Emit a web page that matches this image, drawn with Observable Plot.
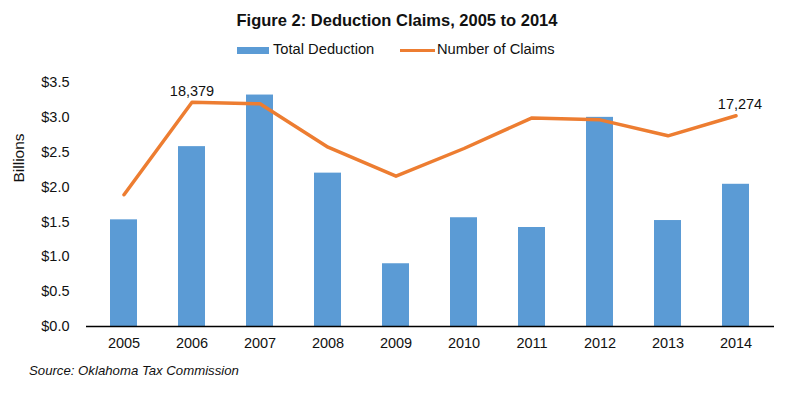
<!DOCTYPE html>
<html>
<head>
<meta charset="utf-8">
<script src="https://cdn.jsdelivr.net/npm/d3@7"></script>
<script src="https://cdn.jsdelivr.net/npm/@observablehq/plot@0.6"></script>
<style>
  html, body { margin: 0; padding: 0; background: #fff; }
  body { width: 800px; height: 394px; position: relative; overflow: hidden; font-family: Arial, "Liberation Sans", sans-serif; color: #111; }
  #title { position: absolute; left: 0; top: 9px; width: 794px; text-align: center; font-weight: bold; font-size: 16.5px; line-height: 22px; }
  .leg { position: absolute; font-size: 14.7px; line-height: 18px; top: 40px; }
  .sw { position: absolute; }
  #chart { position: absolute; left: 0; top: 60px; }
  #caption { position: absolute; left: 29px; top: 362px; font-style: italic; font-size: 13.2px; line-height: 18px; }
</style>
</head>
<body>
<div id="title">Figure 2: Deduction Claims, 2005 to 2014</div>
<div class="sw" style="left:237px;top:47px;width:32px;height:7px;background:#5B9BD5"></div>
<div class="leg" style="left:273px">Total Deduction</div>
<div class="sw" style="left:400px;top:49px;width:35px;height:3px;background:#ED7D31"></div>
<div class="leg" style="left:437px">Number of Claims</div>
<div id="chart"></div>
<div id="caption">Source: Oklahoma Tax Commission</div>
<script>
const years = ["2005","2006","2007","2008","2009","2010","2011","2012","2013","2014"];
const deductionBillions = [1.53, 2.58, 3.32, 2.20, 0.90, 1.56, 1.42, 3.00, 1.52, 2.04];
const claims = [10800, 18379, 18250, 14700, 12320, 14590, 17100, 16940, 15630, 17274];
const labeledYears = ["2006", "2014"];
const yTicks = [0, 0.5, 1, 1.5, 2, 2.5, 3, 3.5];
const claimsAxisMax = 20000; // hidden secondary axis: 0 to 20,000
const yMax = 3.5;

const data = years.map((y, i) => ({year: y, deduction: deductionBillions[i], claims: claims[i]}));
const toY = c => c * yMax / claimsAxisMax;
const fmt = d => d.claims.toLocaleString("en-US");

const plot = Plot.plot({
  width: 800,
  height: 310,
  marginLeft: 86,
  marginRight: 26,
  marginTop: 22,
  marginBottom: 44,
  style: {fontFamily: 'Arial, "Liberation Sans", sans-serif', fontSize: "14.5px", color: "#111", background: "white"},
  x: {domain: years, paddingInner: 0.6, paddingOuter: 0.3, label: null},
  y: {domain: [0, yMax], label: null},
  marks: [
    Plot.barY(data, {x: "year", y: "deduction", fill: "#5B9BD5"}),
    Plot.ruleY([0], {stroke: "#000", strokeWidth: 1.5}),
    Plot.lineY(data, {x: "year", y: d => toY(d.claims), stroke: "#ED7D31", strokeWidth: 3.5, curve: "linear"}),
    Plot.text(data.filter(d => d.year === labeledYears[0]), {
      x: "year", y: d => toY(d.claims), text: fmt, dy: -11, fill: "#111", fontSize: 14.5
    }),
    Plot.text(data.filter(d => d.year === labeledYears[1]), {
      x: "year", y: d => toY(d.claims), text: fmt, dy: -11, dx: 4, fill: "#111", fontSize: 14.5
    }),
    Plot.axisY({ticks: yTicks, tickSize: 0, tickPadding: 17, tickFormat: d => "$" + d.toFixed(1), fill: "#111", label: null}),
    Plot.axisX({tickSize: 0, tickPadding: 11, fill: "#111", label: null}),
    Plot.text(["Billions"], {frameAnchor: "left", rotate: -90, dx: -67, dy: -22, fontSize: 15.5, fill: "#111"})
  ]
});
document.getElementById("chart").appendChild(plot);
</script>
</body>
</html>
